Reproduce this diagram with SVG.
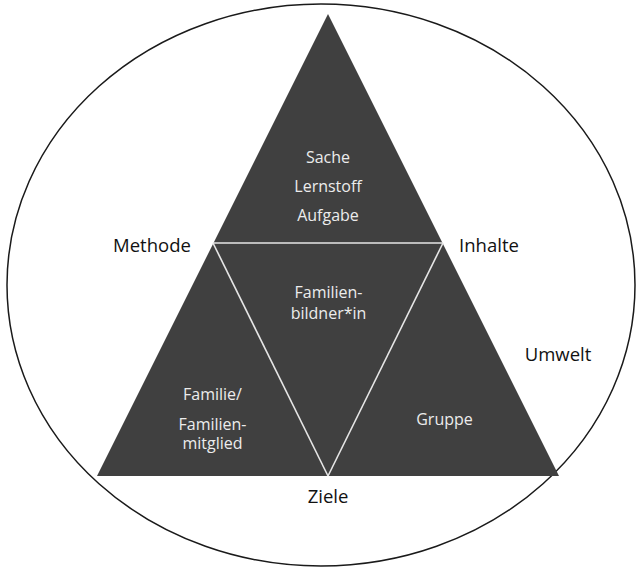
<svg xmlns="http://www.w3.org/2000/svg" width="641" height="569" viewBox="0 0 641 569">
<style>
.bg{fill:#ffffff}
.env{fill:none;stroke:#1a1a1a;stroke-width:1.5}
.tri{fill:#404040}
.sep{fill:none;stroke:#e6e6e6;stroke-width:1.6}
.in{font-family:"Open Sans","Liberation Sans",sans-serif;font-size:16px;fill:#ececec;text-anchor:middle}
.lbl{font-family:"Open Sans","Liberation Sans",sans-serif;font-size:18.5px;fill:#111111;text-anchor:middle}
</style>
<rect class="bg" x="0" y="0" width="641" height="569"/>
<g id="umwelt">
<ellipse class="env" cx="321" cy="285" rx="314" ry="281"/>
<text class="lbl" x="558" y="361">Umwelt</text>
</g>
<g id="dreieck">
<polygon class="tri" points="328,14 559,476 97,476"/>
</g>
<g id="connectors">
<line class="sep" x1="213" y1="243" x2="443" y2="243"/>
<line class="sep" x1="213" y1="243" x2="328" y2="476"/>
<line class="sep" x1="443" y1="243" x2="328" y2="476"/>
</g>
<g id="sache">
<text class="in" x="328" y="163">Sache</text>
<text class="in" x="328" y="192">Lernstoff</text>
<text class="in" x="328" y="221">Aufgabe</text>
</g>
<g id="familienbildner">
<text class="in" x="328.5" y="298">Familien-</text>
<text class="in" x="328.5" y="319">bildner*in</text>
</g>
<g id="familie">
<text class="in" x="212.5" y="400">Familie/</text>
<text class="in" x="212.5" y="430">Familien-</text>
<text class="in" x="212.5" y="449">mitglied</text>
</g>
<g id="gruppe">
<text class="in" x="444.5" y="425">Gruppe</text>
</g>
<g id="methode"><text class="lbl" x="152" y="252">Methode</text></g>
<g id="inhalte"><text class="lbl" x="489" y="252">Inhalte</text></g>
<g id="ziele"><text class="lbl" x="328" y="503">Ziele</text></g>
</svg>
